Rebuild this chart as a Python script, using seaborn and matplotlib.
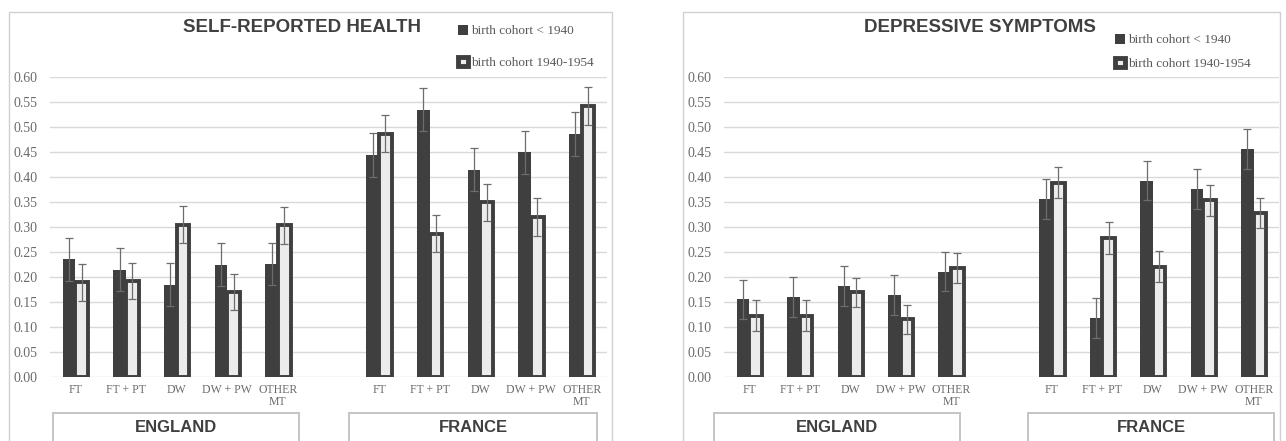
import numpy as np
import pandas as pd
import matplotlib
matplotlib.use("Agg")
import matplotlib.pyplot as plt
import seaborn as sns
from matplotlib.patches import Rectangle, Patch
from matplotlib.container import BarContainer

# ---------------- data ----------------
categories = ["FT", "FT + PT", "DW", "DW + PW", "OTHER\nMT"]
countries = ["ENGLAND", "FRANCE"]
cohorts = ["birth cohort < 1940", "birth cohort 1940-1954"]
titles = ["SELF-REPORTED HEALTH", "DEPRESSIVE SYMPTOMS"]
yticks = [0.00, 0.05, 0.10, 0.15, 0.20, 0.25, 0.30, 0.35, 0.40, 0.45, 0.50, 0.55, 0.60]

srh_eng_old = [0.236, 0.215, 0.185, 0.225, 0.226]
srh_eng_old_err = [0.043, 0.043, 0.043, 0.043, 0.042]
srh_eng_new = [0.190, 0.192, 0.305, 0.171, 0.304]
srh_eng_new_err = [0.037, 0.036, 0.037, 0.036, 0.037]
srh_fra_old = [0.445, 0.535, 0.415, 0.450, 0.487]
srh_fra_old_err = [0.044, 0.043, 0.043, 0.043, 0.044]
srh_fra_new = [0.487, 0.287, 0.350, 0.320, 0.542]
srh_fra_new_err = [0.037, 0.037, 0.037, 0.038, 0.037]

dep_eng_old = [0.156, 0.160, 0.183, 0.164, 0.211]
dep_eng_old_err = [0.039, 0.040, 0.040, 0.040, 0.039]
dep_eng_new = [0.123, 0.123, 0.170, 0.116, 0.219]
dep_eng_new_err = [0.031, 0.031, 0.029, 0.029, 0.030]
dep_fra_old = [0.357, 0.118, 0.393, 0.377, 0.456]
dep_fra_old_err = [0.040, 0.040, 0.040, 0.040, 0.040]
dep_fra_new = [0.389, 0.278, 0.221, 0.354, 0.328]
dep_fra_new_err = [0.031, 0.032, 0.031, 0.031, 0.031]

panels = [
    (srh_eng_old, srh_eng_old_err, srh_eng_new, srh_eng_new_err,
     srh_fra_old, srh_fra_old_err, srh_fra_new, srh_fra_new_err),
    (dep_eng_old, dep_eng_old_err, dep_eng_new, dep_eng_new_err,
     dep_fra_old, dep_fra_old_err, dep_fra_new, dep_fra_new_err),
]

# ---------------- style ----------------
DARK = "#3f3f3f"
LIGHT = "#ececec"
GRID = "#d9d9d9"
TICKC = "#6b6b6b"
ERRC = "#6d6d6d"
BORDER = "#d0d0d0"

W, H = 1286, 441
fig = plt.figure(figsize=(W / 100, H / 100), dpi=100)
fig.patch.set_facecolor("white")

SERIF = ["Liberation Serif", "DejaVu Serif"]
SANS = ["Liberation Sans", "DejaVu Sans"]
plt.rcParams["font.family"] = SERIF


def fx(px):
    return px / W


def fy(py):
    return 1 - py / H


# layout per panel (pixels)
axes_px = [(50, 77, 607, 377), (724, 77, 1279, 377)]
frame_px = [(9, 12, 612), (683, 12, 1280)]
title_px = [(302, 28), (980, 28)]
legend_px = [(458, 47, 1.45), (1115, 52, 0.85)]
boxes_px = [[(53, 299), (349, 597)], [(714, 960), (1028, 1274)]]

slot_order = [f"ENGLAND|{c}" for c in categories] + ["gap"] + [f"FRANCE|{c}" for c in categories]
tick_labels = categories + [""] + categories

for p, data in enumerate(panels):
    (e_old, e_old_err, e_new, e_new_err, f_old, f_old_err, f_new, f_new_err) = data

    # panel frame
    x0, y0, x1 = frame_px[p]
    fig.patches.append(Rectangle((fx(x0), fy(480)), fx(x1 - x0), (480 - y0) / H,
                                 transform=fig.transFigure, facecolor="none",
                                 edgecolor=BORDER, lw=1.0, zorder=0))

    rows = []
    errs = {}
    for country, old, old_err, new, new_err in [
        ("ENGLAND", e_old, e_old_err, e_new, e_new_err),
        ("FRANCE", f_old, f_old_err, f_new, f_new_err),
    ]:
        for i, c in enumerate(categories):
            key = f"{country}|{c}"
            rows.append({"slot": key, "cohort": cohorts[0], "value": old[i]})
            rows.append({"slot": key, "cohort": cohorts[1], "value": new[i]})
            errs[(slot_order.index(key), 0)] = old_err[i]
            errs[(slot_order.index(key), 1)] = new_err[i]
    df = pd.DataFrame(rows)

    l, t, r, b = axes_px[p]
    ax = fig.add_axes([fx(l), fy(b), fx(r - l), (b - t) / H])
    sns.barplot(data=df, x="slot", y="value", hue="cohort", order=slot_order,
                hue_order=cohorts, palette=[DARK, LIGHT], width=0.5,
                saturation=1, errorbar=None, legend=False, ax=ax, zorder=2)

    bar_conts = [c for c in ax.containers if isinstance(c, BarContainer)]
    for k, cont in enumerate(bar_conts):
        xs, ys, es = [], [], []
        for bar in cont:
            h = bar.get_height()
            if not np.isfinite(h):
                continue
            if k == 0:
                bar.set_edgecolor("none")
            else:
                bar.set_edgecolor(DARK)
                bar.set_linewidth(2.8)
            xc = bar.get_x() + bar.get_width() / 2
            slot = int(round(xc))
            if (slot, k) not in errs:
                continue
            xs.append(xc)
            ys.append(h)
            es.append(errs[(slot, k)])
        ax.errorbar(xs, ys, yerr=es, fmt="none", ecolor=ERRC, elinewidth=0.9,
                    capsize=3.2, capthick=0.9, zorder=4)

    ax.set_xlim(-0.5, len(slot_order) - 0.5)
    ax.set_ylim(0, 0.6)
    ax.set_yticks(yticks)
    ax.set_yticklabels([f"{v:.2f}" for v in yticks])
    ax.set_xticks(range(len(slot_order)))
    ax.set_xticklabels(tick_labels, linespacing=1.0)
    ax.set_xlabel("")
    ax.set_ylabel("")
    ax.tick_params(axis="y", length=0, pad=9, labelsize=10, labelcolor=TICKC)
    ax.tick_params(axis="x", length=0, pad=5, labelsize=8.5, labelcolor=TICKC)
    ax.yaxis.grid(True, color=GRID, lw=1.0, zorder=0)
    ax.set_axisbelow(True)
    for s in ax.spines.values():
        s.set_visible(False)
    ax.set_facecolor("none")

    # title
    tx, ty = title_px[p]
    fig.text(fx(tx), fy(ty), titles[p], ha="center", va="center",
             fontsize=13.5, fontweight="bold", family=SANS, color="#404040")

    # legend
    lx, ly, lsp = legend_px[p]
    handles = [Patch(facecolor=DARK, edgecolor="none"),
               Patch(facecolor=LIGHT, edgecolor=DARK, linewidth=3.5)]
    fig.legend(handles, cohorts, loc="center left",
               bbox_to_anchor=(fx(lx), fy(ly)), frameon=False,
               borderpad=0, borderaxespad=0, handlelength=0.75,
               handleheight=0.75, handletextpad=0.25, labelspacing=lsp,
               prop={"family": SERIF, "size": 9.5}, labelcolor="#595959")

    # country boxes
    for (bx0, bx1), name in zip(boxes_px[p], countries):
        fig.patches.append(Rectangle((fx(bx0), fy(470)), fx(bx1 - bx0), (470 - 413) / H,
                                     transform=fig.transFigure, facecolor="white",
                                     edgecolor="#c4c4c4", lw=1.4, zorder=1))
        fig.text(fx((bx0 + bx1) / 2), fy(428), name, ha="center", va="center",
                 fontsize=12, fontweight="bold", family=SANS, color="#404040")

fig.savefig("out.png", dpi=100, facecolor="white")
